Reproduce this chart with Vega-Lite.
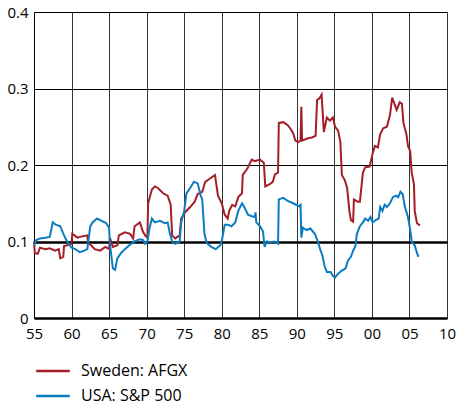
{
  "$schema": "https://vega.github.io/schema/vega-lite/v6.json",
  "width": 413,
  "height": 306,
  "autosize": {"type": "none"},
  "padding": {"left": 34, "top": 12, "right": 10, "bottom": 87},
  "background": "white",
  "config": {
    "view": {"stroke": null},
    "font": "Open Sans"
  },
  "data": {
    "values": [
      {"s":"Sweden: AFGX","year":1955.0,"v":0.100},
      {"s":"Sweden: AFGX","year":1955.1,"v":0.085},
      {"s":"Sweden: AFGX","year":1955.5,"v":0.084},
      {"s":"Sweden: AFGX","year":1955.8,"v":0.092},
      {"s":"Sweden: AFGX","year":1956.5,"v":0.090},
      {"s":"Sweden: AFGX","year":1957.1,"v":0.091},
      {"s":"Sweden: AFGX","year":1957.8,"v":0.088},
      {"s":"Sweden: AFGX","year":1958.3,"v":0.090},
      {"s":"Sweden: AFGX","year":1958.5,"v":0.078},
      {"s":"Sweden: AFGX","year":1958.9,"v":0.080},
      {"s":"Sweden: AFGX","year":1959.0,"v":0.094},
      {"s":"Sweden: AFGX","year":1959.4,"v":0.095},
      {"s":"Sweden: AFGX","year":1960.0,"v":0.097},
      {"s":"Sweden: AFGX","year":1960.1,"v":0.110},
      {"s":"Sweden: AFGX","year":1960.8,"v":0.105},
      {"s":"Sweden: AFGX","year":1961.5,"v":0.107},
      {"s":"Sweden: AFGX","year":1962.1,"v":0.108},
      {"s":"Sweden: AFGX","year":1962.2,"v":0.098},
      {"s":"Sweden: AFGX","year":1962.5,"v":0.096},
      {"s":"Sweden: AFGX","year":1963.1,"v":0.090},
      {"s":"Sweden: AFGX","year":1963.8,"v":0.088},
      {"s":"Sweden: AFGX","year":1964.5,"v":0.093},
      {"s":"Sweden: AFGX","year":1965.0,"v":0.090},
      {"s":"Sweden: AFGX","year":1965.1,"v":0.105},
      {"s":"Sweden: AFGX","year":1965.5,"v":0.093},
      {"s":"Sweden: AFGX","year":1966.1,"v":0.095},
      {"s":"Sweden: AFGX","year":1966.3,"v":0.108},
      {"s":"Sweden: AFGX","year":1967.1,"v":0.112},
      {"s":"Sweden: AFGX","year":1967.8,"v":0.110},
      {"s":"Sweden: AFGX","year":1968.2,"v":0.104},
      {"s":"Sweden: AFGX","year":1968.4,"v":0.120},
      {"s":"Sweden: AFGX","year":1969.1,"v":0.125},
      {"s":"Sweden: AFGX","year":1969.5,"v":0.113},
      {"s":"Sweden: AFGX","year":1969.8,"v":0.108},
      {"s":"Sweden: AFGX","year":1970.1,"v":0.105},
      {"s":"Sweden: AFGX","year":1970.2,"v":0.150},
      {"s":"Sweden: AFGX","year":1970.7,"v":0.168},
      {"s":"Sweden: AFGX","year":1971.1,"v":0.172},
      {"s":"Sweden: AFGX","year":1971.5,"v":0.170},
      {"s":"Sweden: AFGX","year":1972.2,"v":0.163},
      {"s":"Sweden: AFGX","year":1972.8,"v":0.160},
      {"s":"Sweden: AFGX","year":1973.2,"v":0.148},
      {"s":"Sweden: AFGX","year":1973.4,"v":0.108},
      {"s":"Sweden: AFGX","year":1973.8,"v":0.104},
      {"s":"Sweden: AFGX","year":1974.4,"v":0.108},
      {"s":"Sweden: AFGX","year":1974.6,"v":0.130},
      {"s":"Sweden: AFGX","year":1975.1,"v":0.138},
      {"s":"Sweden: AFGX","year":1975.8,"v":0.145},
      {"s":"Sweden: AFGX","year":1976.4,"v":0.152},
      {"s":"Sweden: AFGX","year":1976.8,"v":0.162},
      {"s":"Sweden: AFGX","year":1977.4,"v":0.165},
      {"s":"Sweden: AFGX","year":1977.8,"v":0.178},
      {"s":"Sweden: AFGX","year":1978.4,"v":0.182},
      {"s":"Sweden: AFGX","year":1979.1,"v":0.187},
      {"s":"Sweden: AFGX","year":1979.5,"v":0.160},
      {"s":"Sweden: AFGX","year":1980.0,"v":0.150},
      {"s":"Sweden: AFGX","year":1980.4,"v":0.135},
      {"s":"Sweden: AFGX","year":1980.8,"v":0.130},
      {"s":"Sweden: AFGX","year":1981.0,"v":0.140},
      {"s":"Sweden: AFGX","year":1981.4,"v":0.148},
      {"s":"Sweden: AFGX","year":1981.8,"v":0.146},
      {"s":"Sweden: AFGX","year":1982.2,"v":0.158},
      {"s":"Sweden: AFGX","year":1982.7,"v":0.163},
      {"s":"Sweden: AFGX","year":1982.8,"v":0.187},
      {"s":"Sweden: AFGX","year":1983.4,"v":0.195},
      {"s":"Sweden: AFGX","year":1984.0,"v":0.207},
      {"s":"Sweden: AFGX","year":1984.4,"v":0.205},
      {"s":"Sweden: AFGX","year":1985.1,"v":0.207},
      {"s":"Sweden: AFGX","year":1985.6,"v":0.203},
      {"s":"Sweden: AFGX","year":1985.8,"v":0.172},
      {"s":"Sweden: AFGX","year":1986.4,"v":0.175},
      {"s":"Sweden: AFGX","year":1986.8,"v":0.178},
      {"s":"Sweden: AFGX","year":1987.1,"v":0.188},
      {"s":"Sweden: AFGX","year":1987.5,"v":0.190},
      {"s":"Sweden: AFGX","year":1987.6,"v":0.255},
      {"s":"Sweden: AFGX","year":1988.2,"v":0.256},
      {"s":"Sweden: AFGX","year":1988.8,"v":0.252},
      {"s":"Sweden: AFGX","year":1989.1,"v":0.248},
      {"s":"Sweden: AFGX","year":1989.5,"v":0.242},
      {"s":"Sweden: AFGX","year":1989.8,"v":0.232},
      {"s":"Sweden: AFGX","year":1990.2,"v":0.230},
      {"s":"Sweden: AFGX","year":1990.5,"v":0.232},
      {"s":"Sweden: AFGX","year":1990.6,"v":0.276},
      {"s":"Sweden: AFGX","year":1990.7,"v":0.232},
      {"s":"Sweden: AFGX","year":1991.5,"v":0.235},
      {"s":"Sweden: AFGX","year":1992.0,"v":0.236},
      {"s":"Sweden: AFGX","year":1992.5,"v":0.238},
      {"s":"Sweden: AFGX","year":1992.7,"v":0.285},
      {"s":"Sweden: AFGX","year":1993.0,"v":0.287},
      {"s":"Sweden: AFGX","year":1993.3,"v":0.292},
      {"s":"Sweden: AFGX","year":1993.6,"v":0.243},
      {"s":"Sweden: AFGX","year":1994.0,"v":0.262},
      {"s":"Sweden: AFGX","year":1994.4,"v":0.258},
      {"s":"Sweden: AFGX","year":1994.8,"v":0.262},
      {"s":"Sweden: AFGX","year":1995.1,"v":0.250},
      {"s":"Sweden: AFGX","year":1995.5,"v":0.245},
      {"s":"Sweden: AFGX","year":1995.8,"v":0.230},
      {"s":"Sweden: AFGX","year":1996.0,"v":0.187},
      {"s":"Sweden: AFGX","year":1996.4,"v":0.180},
      {"s":"Sweden: AFGX","year":1996.7,"v":0.170},
      {"s":"Sweden: AFGX","year":1997.0,"v":0.140},
      {"s":"Sweden: AFGX","year":1997.2,"v":0.128},
      {"s":"Sweden: AFGX","year":1997.5,"v":0.126},
      {"s":"Sweden: AFGX","year":1997.6,"v":0.155},
      {"s":"Sweden: AFGX","year":1998.1,"v":0.152},
      {"s":"Sweden: AFGX","year":1998.4,"v":0.152},
      {"s":"Sweden: AFGX","year":1998.8,"v":0.190},
      {"s":"Sweden: AFGX","year":1999.1,"v":0.197},
      {"s":"Sweden: AFGX","year":1999.7,"v":0.198},
      {"s":"Sweden: AFGX","year":2000.1,"v":0.215},
      {"s":"Sweden: AFGX","year":2000.4,"v":0.225},
      {"s":"Sweden: AFGX","year":2000.8,"v":0.223},
      {"s":"Sweden: AFGX","year":2001.1,"v":0.240},
      {"s":"Sweden: AFGX","year":2001.5,"v":0.248},
      {"s":"Sweden: AFGX","year":2002.0,"v":0.250},
      {"s":"Sweden: AFGX","year":2002.4,"v":0.265},
      {"s":"Sweden: AFGX","year":2002.7,"v":0.288},
      {"s":"Sweden: AFGX","year":2003.0,"v":0.280},
      {"s":"Sweden: AFGX","year":2003.3,"v":0.272},
      {"s":"Sweden: AFGX","year":2003.7,"v":0.282},
      {"s":"Sweden: AFGX","year":2004.0,"v":0.280},
      {"s":"Sweden: AFGX","year":2004.2,"v":0.255},
      {"s":"Sweden: AFGX","year":2004.6,"v":0.240},
      {"s":"Sweden: AFGX","year":2004.8,"v":0.225},
      {"s":"Sweden: AFGX","year":2005.1,"v":0.218},
      {"s":"Sweden: AFGX","year":2005.3,"v":0.190},
      {"s":"Sweden: AFGX","year":2005.6,"v":0.175},
      {"s":"Sweden: AFGX","year":2005.7,"v":0.140},
      {"s":"Sweden: AFGX","year":2006.0,"v":0.124},
      {"s":"Sweden: AFGX","year":2006.4,"v":0.121},
      {"s":"USA: S&P 500","year":1955.0,"v":0.095},
      {"s":"USA: S&P 500","year":1955.3,"v":0.102},
      {"s":"USA: S&P 500","year":1955.8,"v":0.104},
      {"s":"USA: S&P 500","year":1956.5,"v":0.105},
      {"s":"USA: S&P 500","year":1957.1,"v":0.106},
      {"s":"USA: S&P 500","year":1957.5,"v":0.125},
      {"s":"USA: S&P 500","year":1957.9,"v":0.122},
      {"s":"USA: S&P 500","year":1958.5,"v":0.120},
      {"s":"USA: S&P 500","year":1959.0,"v":0.108},
      {"s":"USA: S&P 500","year":1959.4,"v":0.100},
      {"s":"USA: S&P 500","year":1960.0,"v":0.092},
      {"s":"USA: S&P 500","year":1960.5,"v":0.090},
      {"s":"USA: S&P 500","year":1961.1,"v":0.086},
      {"s":"USA: S&P 500","year":1961.7,"v":0.088},
      {"s":"USA: S&P 500","year":1962.1,"v":0.090},
      {"s":"USA: S&P 500","year":1962.5,"v":0.120},
      {"s":"USA: S&P 500","year":1962.8,"v":0.125},
      {"s":"USA: S&P 500","year":1963.4,"v":0.130},
      {"s":"USA: S&P 500","year":1964.0,"v":0.127},
      {"s":"USA: S&P 500","year":1964.6,"v":0.124},
      {"s":"USA: S&P 500","year":1965.0,"v":0.118},
      {"s":"USA: S&P 500","year":1965.1,"v":0.098},
      {"s":"USA: S&P 500","year":1965.5,"v":0.065},
      {"s":"USA: S&P 500","year":1965.8,"v":0.063},
      {"s":"USA: S&P 500","year":1966.1,"v":0.078},
      {"s":"USA: S&P 500","year":1966.6,"v":0.085},
      {"s":"USA: S&P 500","year":1967.1,"v":0.090},
      {"s":"USA: S&P 500","year":1967.8,"v":0.096},
      {"s":"USA: S&P 500","year":1968.4,"v":0.100},
      {"s":"USA: S&P 500","year":1969.1,"v":0.103},
      {"s":"USA: S&P 500","year":1969.5,"v":0.102},
      {"s":"USA: S&P 500","year":1969.8,"v":0.097},
      {"s":"USA: S&P 500","year":1970.1,"v":0.100},
      {"s":"USA: S&P 500","year":1970.4,"v":0.118},
      {"s":"USA: S&P 500","year":1970.7,"v":0.130},
      {"s":"USA: S&P 500","year":1971.1,"v":0.125},
      {"s":"USA: S&P 500","year":1971.8,"v":0.127},
      {"s":"USA: S&P 500","year":1972.4,"v":0.124},
      {"s":"USA: S&P 500","year":1972.8,"v":0.125},
      {"s":"USA: S&P 500","year":1973.1,"v":0.110},
      {"s":"USA: S&P 500","year":1973.4,"v":0.100},
      {"s":"USA: S&P 500","year":1973.8,"v":0.097},
      {"s":"USA: S&P 500","year":1974.4,"v":0.100},
      {"s":"USA: S&P 500","year":1974.6,"v":0.125},
      {"s":"USA: S&P 500","year":1975.0,"v":0.140},
      {"s":"USA: S&P 500","year":1975.3,"v":0.163},
      {"s":"USA: S&P 500","year":1975.8,"v":0.170},
      {"s":"USA: S&P 500","year":1976.3,"v":0.178},
      {"s":"USA: S&P 500","year":1976.8,"v":0.176},
      {"s":"USA: S&P 500","year":1977.2,"v":0.160},
      {"s":"USA: S&P 500","year":1977.4,"v":0.155},
      {"s":"USA: S&P 500","year":1977.7,"v":0.110},
      {"s":"USA: S&P 500","year":1978.0,"v":0.098},
      {"s":"USA: S&P 500","year":1978.6,"v":0.093},
      {"s":"USA: S&P 500","year":1979.2,"v":0.090},
      {"s":"USA: S&P 500","year":1979.8,"v":0.095},
      {"s":"USA: S&P 500","year":1980.0,"v":0.100},
      {"s":"USA: S&P 500","year":1980.4,"v":0.122},
      {"s":"USA: S&P 500","year":1980.8,"v":0.122},
      {"s":"USA: S&P 500","year":1981.3,"v":0.120},
      {"s":"USA: S&P 500","year":1981.8,"v":0.125},
      {"s":"USA: S&P 500","year":1982.2,"v":0.140},
      {"s":"USA: S&P 500","year":1982.7,"v":0.150},
      {"s":"USA: S&P 500","year":1983.0,"v":0.145},
      {"s":"USA: S&P 500","year":1983.5,"v":0.135},
      {"s":"USA: S&P 500","year":1984.0,"v":0.133},
      {"s":"USA: S&P 500","year":1984.4,"v":0.132},
      {"s":"USA: S&P 500","year":1984.5,"v":0.138},
      {"s":"USA: S&P 500","year":1984.6,"v":0.125},
      {"s":"USA: S&P 500","year":1985.1,"v":0.120},
      {"s":"USA: S&P 500","year":1985.5,"v":0.113},
      {"s":"USA: S&P 500","year":1985.7,"v":0.093},
      {"s":"USA: S&P 500","year":1986.0,"v":0.100},
      {"s":"USA: S&P 500","year":1986.5,"v":0.099},
      {"s":"USA: S&P 500","year":1987.0,"v":0.100},
      {"s":"USA: S&P 500","year":1987.5,"v":0.097},
      {"s":"USA: S&P 500","year":1987.6,"v":0.155},
      {"s":"USA: S&P 500","year":1988.2,"v":0.157},
      {"s":"USA: S&P 500","year":1988.8,"v":0.153},
      {"s":"USA: S&P 500","year":1989.5,"v":0.150},
      {"s":"USA: S&P 500","year":1990.3,"v":0.146},
      {"s":"USA: S&P 500","year":1990.5,"v":0.148},
      {"s":"USA: S&P 500","year":1990.6,"v":0.105},
      {"s":"USA: S&P 500","year":1990.8,"v":0.118},
      {"s":"USA: S&P 500","year":1991.3,"v":0.115},
      {"s":"USA: S&P 500","year":1991.8,"v":0.117},
      {"s":"USA: S&P 500","year":1992.4,"v":0.110},
      {"s":"USA: S&P 500","year":1992.8,"v":0.100},
      {"s":"USA: S&P 500","year":1993.1,"v":0.090},
      {"s":"USA: S&P 500","year":1993.4,"v":0.082},
      {"s":"USA: S&P 500","year":1993.7,"v":0.068},
      {"s":"USA: S&P 500","year":1994.0,"v":0.060},
      {"s":"USA: S&P 500","year":1994.5,"v":0.060},
      {"s":"USA: S&P 500","year":1994.8,"v":0.055},
      {"s":"USA: S&P 500","year":1995.1,"v":0.053},
      {"s":"USA: S&P 500","year":1995.5,"v":0.058},
      {"s":"USA: S&P 500","year":1996.0,"v":0.062},
      {"s":"USA: S&P 500","year":1996.5,"v":0.065},
      {"s":"USA: S&P 500","year":1996.8,"v":0.075},
      {"s":"USA: S&P 500","year":1997.2,"v":0.080},
      {"s":"USA: S&P 500","year":1997.5,"v":0.088},
      {"s":"USA: S&P 500","year":1997.8,"v":0.094},
      {"s":"USA: S&P 500","year":1998.0,"v":0.110},
      {"s":"USA: S&P 500","year":1998.4,"v":0.120},
      {"s":"USA: S&P 500","year":1998.8,"v":0.125},
      {"s":"USA: S&P 500","year":1999.1,"v":0.130},
      {"s":"USA: S&P 500","year":1999.5,"v":0.127},
      {"s":"USA: S&P 500","year":1999.8,"v":0.132},
      {"s":"USA: S&P 500","year":2000.1,"v":0.125},
      {"s":"USA: S&P 500","year":2000.5,"v":0.128},
      {"s":"USA: S&P 500","year":2000.9,"v":0.130},
      {"s":"USA: S&P 500","year":2001.1,"v":0.145},
      {"s":"USA: S&P 500","year":2001.4,"v":0.140},
      {"s":"USA: S&P 500","year":2001.7,"v":0.148},
      {"s":"USA: S&P 500","year":2002.0,"v":0.145},
      {"s":"USA: S&P 500","year":2002.4,"v":0.150},
      {"s":"USA: S&P 500","year":2002.8,"v":0.158},
      {"s":"USA: S&P 500","year":2003.2,"v":0.160},
      {"s":"USA: S&P 500","year":2003.5,"v":0.158},
      {"s":"USA: S&P 500","year":2003.8,"v":0.165},
      {"s":"USA: S&P 500","year":2004.1,"v":0.162},
      {"s":"USA: S&P 500","year":2004.4,"v":0.145},
      {"s":"USA: S&P 500","year":2004.8,"v":0.132},
      {"s":"USA: S&P 500","year":2005.1,"v":0.115},
      {"s":"USA: S&P 500","year":2005.3,"v":0.100},
      {"s":"USA: S&P 500","year":2005.7,"v":0.095},
      {"s":"USA: S&P 500","year":2006.0,"v":0.085},
      {"s":"USA: S&P 500","year":2006.2,"v":0.080}
    ]
  },
  "mark": {"type": "line", "strokeWidth": 2, "strokeJoin": "miter"},
  "encoding": {
    "x": {
      "field": "year", "type": "quantitative",
      "scale": {"domain": [1955, 2010], "nice": false, "zero": false},
      "axis": {
        "title": null,
        "values": [1955,1960,1965,1970,1975,1980,1985,1990,1995,2000,2005,2010],
        "labelExpr": "(datum.value % 100) < 10 ? '0' + (datum.value % 100) : '' + (datum.value % 100)",
        "labelFont": "Open Sans", "labelFontSize": 15, "labelColor": "#000",
        "labelPadding": 8, "labelFlush": false,
        "ticks": false,
        "grid": true, "gridColor": "#333", "gridWidth": 1, "gridOpacity": 1,
        "domain": true, "domainColor": "#000", "domainWidth": 2.5
      }
    },
    "y": {
      "field": "v", "type": "quantitative",
      "scale": {"domain": [0, 0.4], "nice": false},
      "axis": {
        "title": null,
        "values": [0, 0.1, 0.2, 0.3, 0.4],
        "format": ".1~f",
        "labelFont": "Open Sans", "labelFontSize": 15, "labelColor": "#000",
        "labelPadding": 6, "labelFlush": false,
        "ticks": false,
        "grid": true, "gridColor": "#000", "gridOpacity": 1,
        "gridWidth": {"expr": "abs(datum.value - 0.1) < 0.001 ? 2.5 : 1.2"},
        "domain": true, "domainColor": "#000", "domainWidth": 1
      }
    },
    "color": {
      "field": "s", "type": "nominal",
      "scale": {"domain": ["Sweden: AFGX", "USA: S&P 500"], "range": ["#a51d27", "#0a7cc1"]},
      "legend": {
        "title": null,
        "orient": "none",
        "legendX": 11,
        "legendY": 351,
        "direction": "vertical",
        "padding": 0,
        "symbolType": "M-2.8,0H2.8",
        "symbolSize": 144,
        "symbolStrokeWidth": 2.5,
        "labelOffset": 20,
        "labelFont": "Open Sans",
        "labelFontSize": 16,
        "labelColor": "#000",
        "rowPadding": 9
      }
    }
  }
}
